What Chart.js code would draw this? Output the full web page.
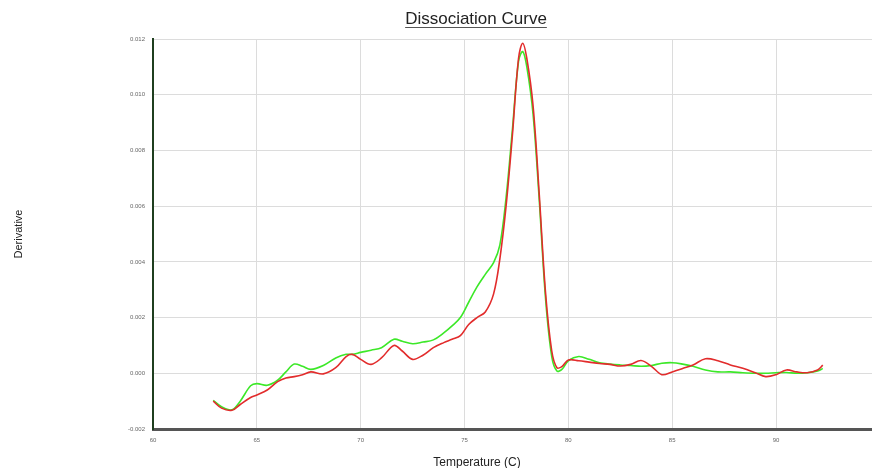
<!DOCTYPE html>
<html>
<head>
<meta charset="utf-8">
<script src="https://cdn.jsdelivr.net/npm/chart.js@4.4.1/dist/chart.umd.min.js"></script>
<style>
  html, body { margin: 0; padding: 0; background: #fff; }
  #wrap { position: relative; width: 872px; height: 468px; }
  #title { position: absolute; left: 0; width: 952px; top: 9px; text-align: center;
           font-family: "Liberation Sans", Arial, sans-serif; font-size: 17px; color: #222;
           text-decoration: underline; text-decoration-color: #555; text-underline-offset: 3px; }
  #xtitle { position: absolute; left: 0; width: 954px; top: 455px; text-align: center;
           font-family: "Liberation Sans", Arial, sans-serif; font-size: 12px; color: #222; }
  canvas { position: absolute; left: 0; top: 0; }
</style>
</head>
<body>
<div id="wrap">
  <canvas id="c" width="872" height="468"></canvas>
  <div id="title">Dissociation Curve</div>
  <div id="xtitle">Temperature (C)</div>
</div>
<script>
// Data (temperature in °C, derivative values)
const temps = [62.9, 63.3, 63.8, 64.2, 64.7, 65.0, 65.5, 66.0, 66.4, 66.8, 67.2, 67.6, 68.2, 68.8, 69.3, 69.6, 70.0, 70.5, 71.0, 71.6, 72.0, 72.5, 73.0, 73.5, 74.0, 74.4, 74.8, 75.2, 75.6, 76.0, 76.4, 76.7, 77.0, 77.3, 77.6, 77.8, 78.0, 78.3, 78.6, 78.9, 79.2, 79.45, 79.7, 80.0, 80.5, 81.0, 81.5, 82.0, 82.5, 83.0, 83.5, 84.0, 84.5, 85.0, 85.5, 86.0, 86.6, 87.2, 87.8, 88.4, 89.0, 89.5, 90.0, 90.5, 91.0, 91.5, 92.0, 92.25];

const redValues = [-0.00100, -0.00125, -0.00133, -0.00112, -0.00087, -0.00078, -0.00060, -0.00030, -0.00017, -0.00012, -0.00005, 0.00005, -0.00002, 0.00020, 0.00060, 0.00068, 0.00050, 0.00032, 0.00055, 0.00100, 0.00080, 0.00050, 0.00065, 0.00092, 0.00110, 0.00122, 0.00135, 0.00175, 0.00200, 0.00220, 0.00285, 0.00410, 0.00600, 0.00850, 0.01130, 0.01185, 0.01130, 0.00960, 0.00640, 0.00290, 0.00080, 0.00020, 0.00025, 0.00048, 0.00045, 0.00040, 0.00035, 0.00032, 0.00026, 0.00032, 0.00046, 0.00025, -0.00005, 0.00005, 0.00017, 0.00030, 0.00052, 0.00045, 0.00030, 0.00018, 0.00002, -0.00012, -0.00005, 0.00012, 0.00005, 0.00002, 0.00012, 0.00029];

const greenValues = [-0.00097, -0.00120, -0.00131, -0.00100, -0.00045, -0.00037, -0.00043, -0.00025, 0.00005, 0.00033, 0.00025, 0.00014, 0.00028, 0.00055, 0.00068, 0.00068, 0.00075, 0.00083, 0.00092, 0.00122, 0.00115, 0.00106, 0.00112, 0.00120, 0.00145, 0.00170, 0.00200, 0.00255, 0.00310, 0.00355, 0.00397, 0.00460, 0.00630, 0.00870, 0.01120, 0.01155, 0.01100, 0.00930, 0.00620, 0.00270, 0.00060, 0.00008, 0.00015, 0.00045, 0.00060, 0.00050, 0.00038, 0.00033, 0.00030, 0.00028, 0.00025, 0.00028, 0.00036, 0.00038, 0.00033, 0.00025, 0.00012, 0.00005, 0.00005, 0.00002, 0.00000, 0.00000, 0.00002, 0.00003, 0.00000, 0.00002, 0.00008, 0.00017];

const xTicks = [60, 65, 70, 75, 80, 85, 90];
const yTicks = [-0.002, 0.000, 0.002, 0.004, 0.006, 0.008, 0.010, 0.012];

const toPts = vals => temps.map((t, i) => ({ x: t, y: vals[i] }));

const FONT = '"Liberation Sans", Arial, sans-serif';

new Chart(document.getElementById('c'), {
  type: 'line',
  data: {
    datasets: [
      { label: 'Red', data: toPts(redValues), borderColor: 'rgb(226,44,44)', borderWidth: 1.6,
        pointRadius: 0, tension: 0.35, fill: false },
      { label: 'Green', data: toPts(greenValues), borderColor: 'rgb(60,232,40)', borderWidth: 1.6,
        pointRadius: 0, tension: 0.35, fill: false }
    ]
  },
  options: {
    responsive: false,
    animation: false,
    layout: { padding: { top: 39, right: 0, bottom: 0, left: 0 } },
    plugins: { legend: { display: false }, tooltip: { enabled: false }, title: { display: false } },
    scales: {
      x: {
        type: 'linear',
        min: 60, max: 94.62,
        afterBuildTicks: s => { s.ticks = xTicks.map(v => ({ value: v })); },
        afterFit: s => { s.height = 39; },
        grid: { color: '#dcdcdc', lineWidth: 1, drawTicks: false },
        border: { display: true, color: '#555', width: 3 },
        ticks: { font: { family: FONT, size: 6 }, color: '#666', padding: 8, maxRotation: 0,
                 callback: v => String(v) },
        title: { display: false }
      },
      y: {
        min: -0.002, max: 0.012,
        afterBuildTicks: s => { s.ticks = yTicks.map(v => ({ value: v })); },
        afterFit: s => { s.width = 153; },
        grid: { color: '#dcdcdc', lineWidth: 1, drawTicks: false },
        border: { display: true, color: '#1f3f1f', width: 2 },
        ticks: { font: { family: FONT, size: 6 }, color: '#666', padding: 8,
                 callback: v => v.toFixed(3) },
        title: { display: true, text: 'Derivative', font: { family: FONT, size: 11 }, color: '#222',
                 padding: { top: 12, bottom: 0 } }
      }
    }
  }
});
</script>
</body>
</html>
